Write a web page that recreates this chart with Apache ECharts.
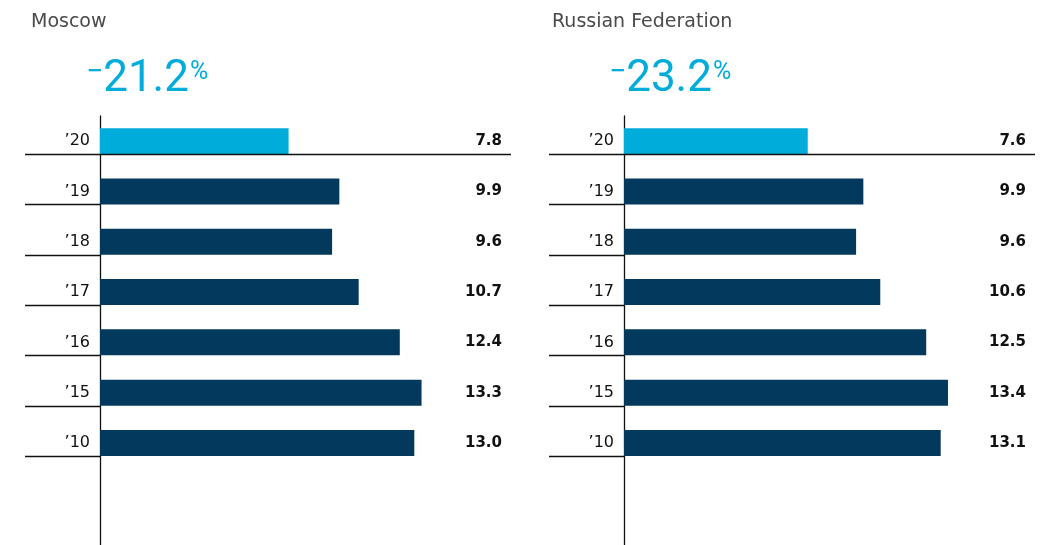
<!DOCTYPE html>
<html>
<head>
<meta charset="utf-8">
<script src="https://cdn.jsdelivr.net/npm/echarts@6/dist/echarts.min.js"></script>
<style>
  html, body { margin: 0; padding: 0; background: #fff; }
  #chart { width: 1043px; height: 545px; }
</style>
</head>
<body>
<div id="chart"></div>
<script>
// data
const years = ['’20', '’19', '’18', '’17', '’16', '’15', '’10']
const moscow = [7.8, 9.9, 9.6, 10.7, 12.4, 13.3, 13.0]
const russia = [7.6, 9.9, 9.6, 10.6, 12.5, 13.4, 13.1]
const panelNames = ['Moscow', 'Russian Federation']

const CYAN = '#00acda'
const NAVY = '#02395d'
const BAR_W = 26
const font = 'DejaVu Sans'

const chart = echarts.init(document.getElementById('chart'), null, { renderer: 'canvas' })

// change '20 vs '19, in %
function change (vals) {
  return Math.abs((vals[0] / vals[1] - 1) * 100).toFixed(1)
}

const panels = [
  { name: panelNames[0], values: moscow, left: 100, titleLeft: 26, numLeft: 81 },
  { name: panelNames[1], values: russia, left: 624, titleLeft: 547, numLeft: 604 }
]

const title = []
const grid = []
const xAxis = []
const yAxis = []
const series = []

panels.forEach((p, i) => {
  title.push({
    text: p.name,
    left: p.titleLeft,
    top: 8,
    textStyle: { fontFamily: font, fontSize: 19, fontWeight: 'normal', color: '#4a4a4a' }
  })
  title.push({
    text: '{m|−}{n|' + change(p.values) + '}{p|%}',
    left: p.numLeft,
    top: 53,
    textStyle: {
      fontWeight: 'normal',
      rich: {
        m: { fontFamily: 'Roboto', fontWeight: 'normal', fontSize: 30, color: CYAN, verticalAlign: 'top', padding: [0, 0, 0, 0] },
        n: { fontFamily: 'Roboto', fontWeight: 'normal', fontSize: 44, color: CYAN },
        p: { fontFamily: 'Roboto', fontWeight: 'normal', fontSize: 25, color: CYAN, verticalAlign: 'top', padding: [2, 0, 0, 1] }
      }
    }
  })
  // 9 rows of ~50px; the last rows run off the bottom edge like the source
  grid.push({ left: p.left, width: 411, top: 116, height: 50.3 * 9, outerBoundsMode: 'none' })
  xAxis.push({ gridIndex: i, type: 'value', min: 0, max: 17, show: false })
  // year labels + vertical axis
  yAxis.push({
    gridIndex: i,
    type: 'category',
    inverse: true,
    data: years,
    max: 8,
    axisLine: { show: true, onZero: false, lineStyle: { color: '#111', width: 1.3 } },
    axisTick: { show: false },
    splitLine: { show: false },
    axisLabel: {
      margin: 10,
      fontFamily: font,
      fontSize: 16,
      color: '#111',
      formatter: (v, idx) => idx < years.length ? v : ''
    }
  })
  // value labels on the right
  yAxis.push({
    gridIndex: i,
    type: 'category',
    position: 'right',
    inverse: true,
    data: p.values.map(v => v.toFixed(1)),
    max: 8,
    axisLine: { show: false },
    axisTick: { show: false },
    splitLine: { show: false },
    axisLabel: {
      inside: true,
      align: 'right',
      margin: 9,
      fontFamily: font,
      fontSize: 15,
      fontWeight: 'bold',
      color: '#111',
      formatter: (v, idx) => idx < years.length ? v : ''
    }
  })
  series.push({
    type: 'bar',
    name: p.name,
    xAxisIndex: i,
    yAxisIndex: i * 2,
    data: p.values,
    barWidth: BAR_W,
    itemStyle: { color: params => params.dataIndex === 0 ? CYAN : NAVY },
    silent: true
  })
})

chart.setOption({
  animation: false,
  title,
  grid,
  xAxis,
  yAxis,
  series
})

// row separators under each bar, placed through the axes
const graphic = []
panels.forEach((p, i) => {
  const x0 = chart.convertToPixel({ xAxisIndex: i }, 0)
  const xMax = chart.convertToPixel({ xAxisIndex: i }, 17)
  years.forEach((y, k) => {
    const yc = chart.convertToPixel({ yAxisIndex: i * 2 }, k)
    const yy = Math.round(yc + BAR_W / 2) + 0.5
    graphic.push({
      type: 'line',
      silent: true,
      z: 10,
      shape: { x1: x0 - 75, y1: yy, x2: k === 0 ? xMax : x0, y2: yy },
      style: { stroke: '#111', lineWidth: 1.3 }
    })
  })
})
chart.setOption({ graphic })
</script>
</body>
</html>
